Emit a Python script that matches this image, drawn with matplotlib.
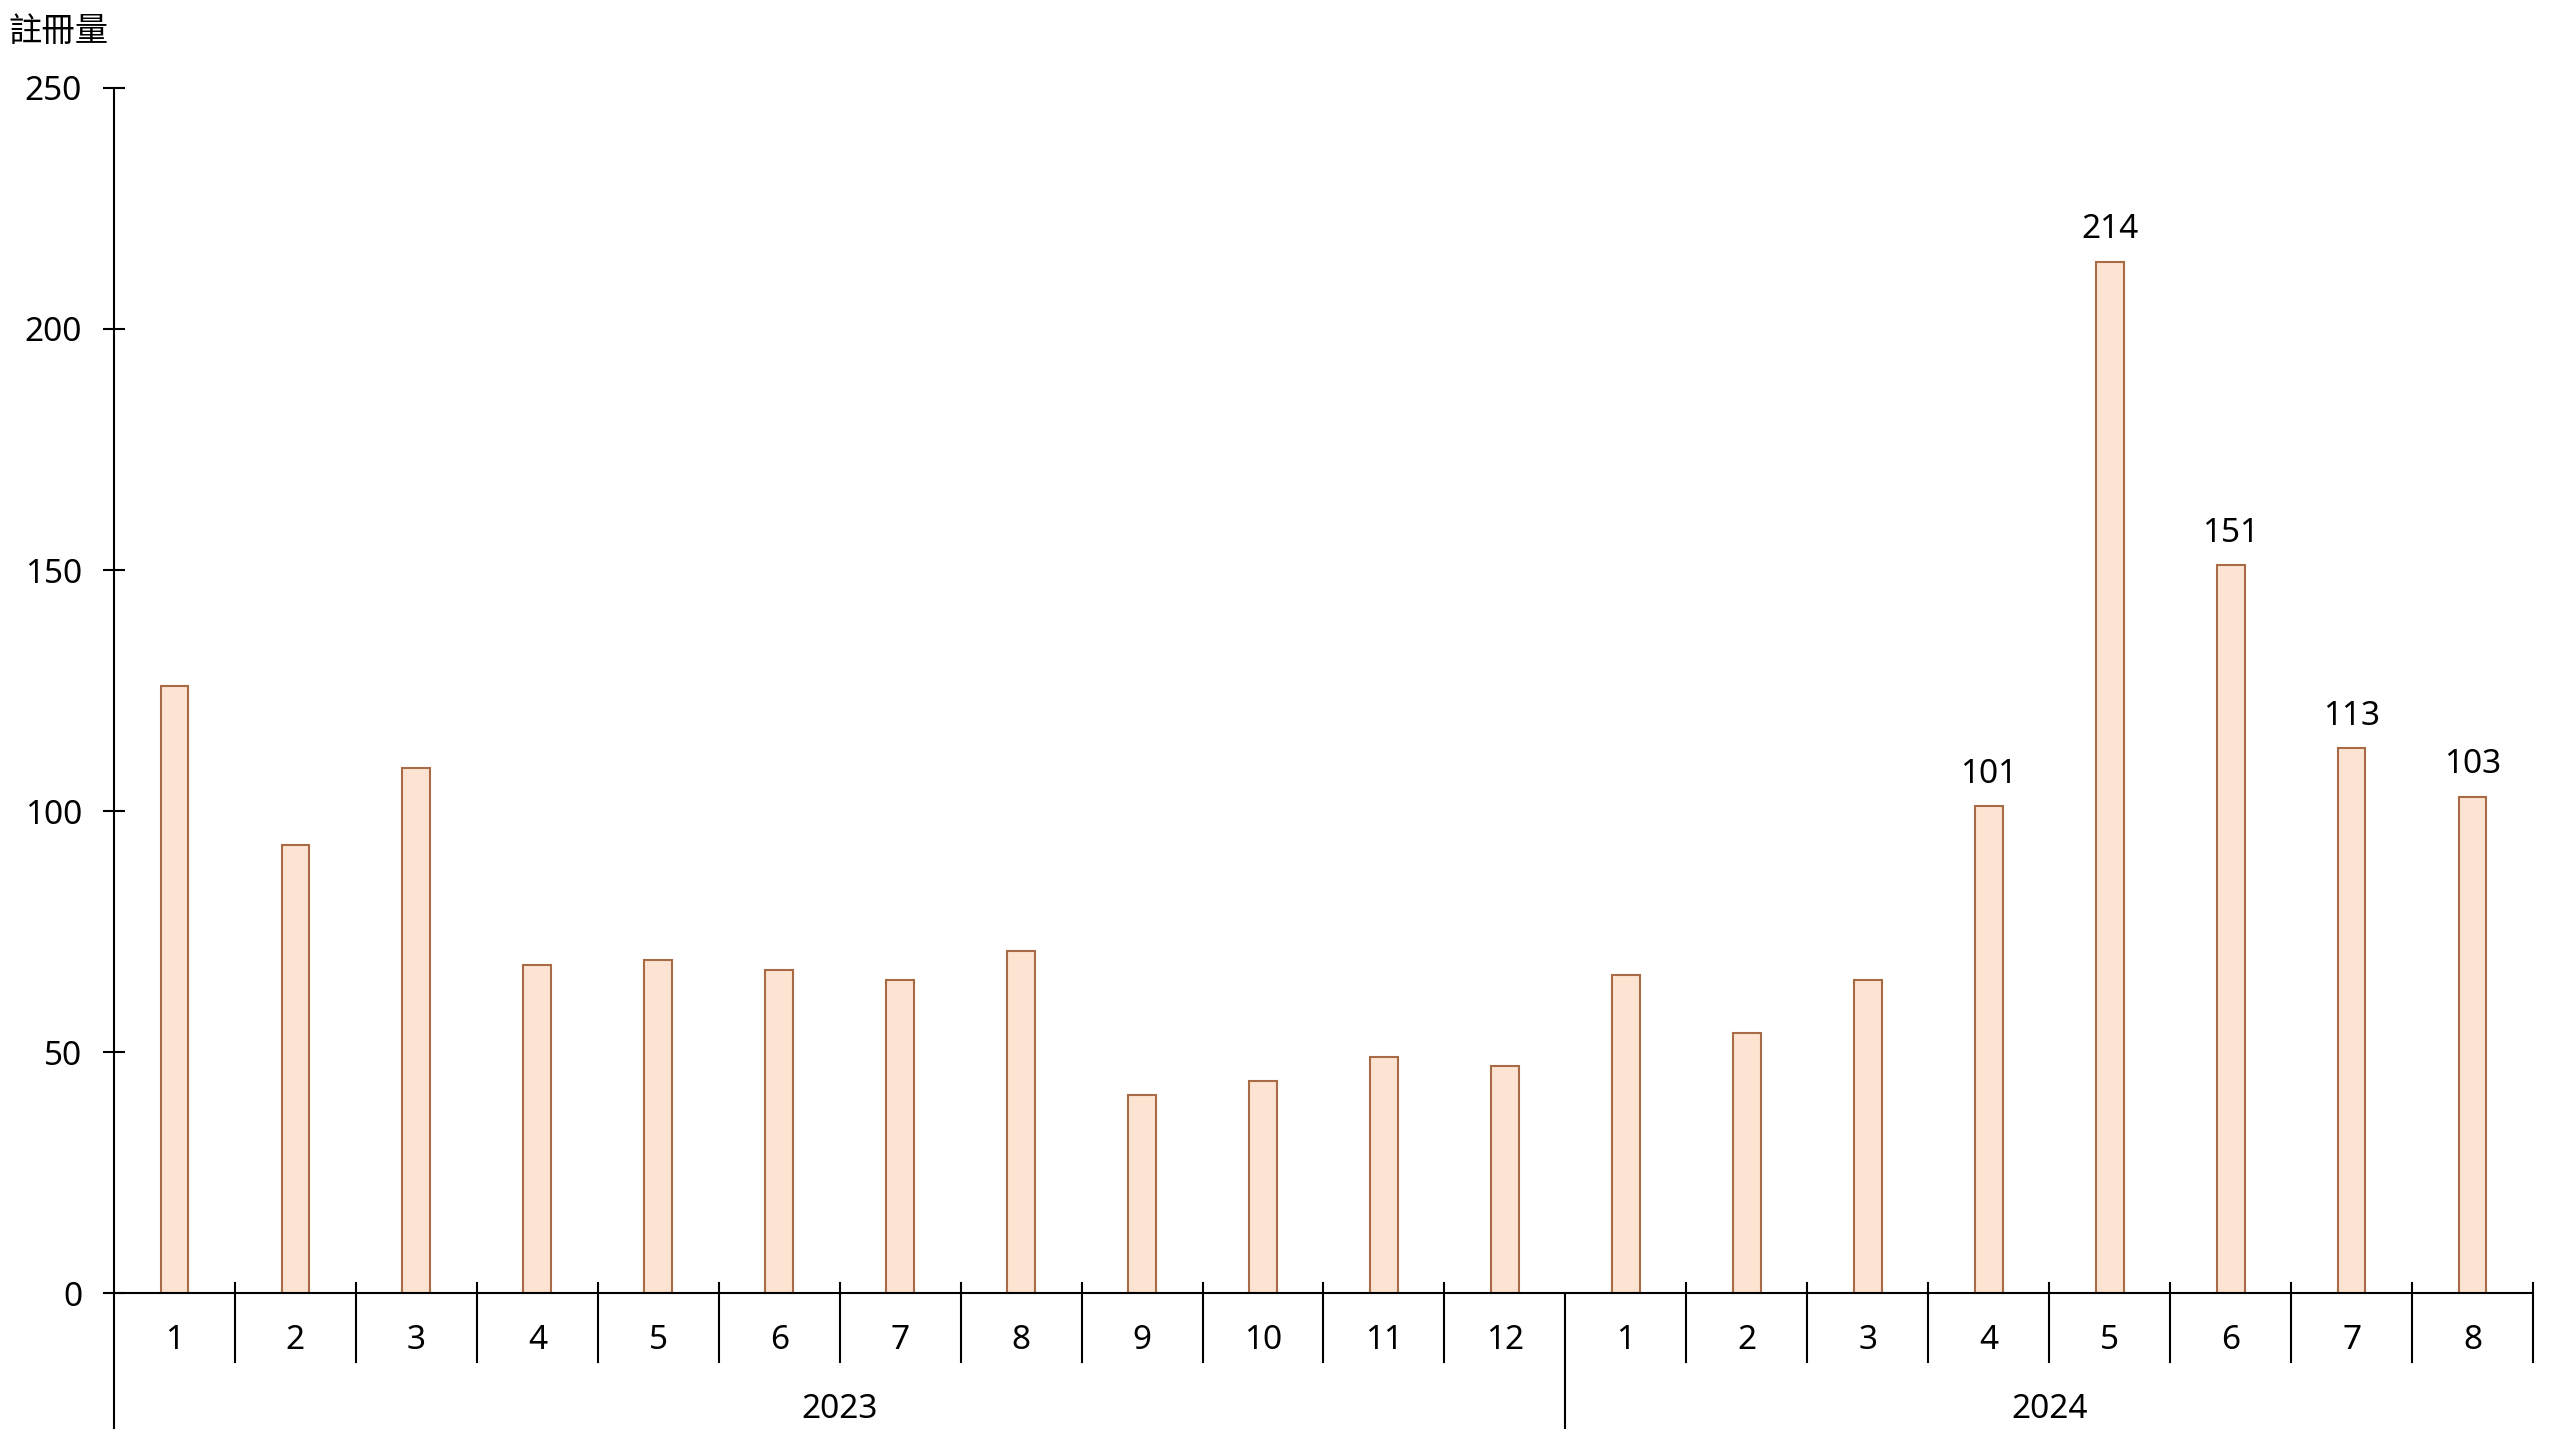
import matplotlib
matplotlib.use("Agg")
import matplotlib.pyplot as plt
import matplotlib.transforms as mtransforms

plt.rcParams['font.family'] = ['Noto Sans', 'Noto Sans CJK TC', 'DejaVu Sans']

years = ['2023', '2024']
months_2023 = ['1', '2', '3', '4', '5', '6', '7', '8', '9', '10', '11', '12']
months_2024 = ['1', '2', '3', '4', '5', '6', '7', '8']
values_2023 = [126, 93, 109, 68, 69, 67, 65, 71, 41, 44, 49, 47]
values_2024 = [66, 54, 65, 101, 214, 151, 113, 103]
labelled_2024 = ['', '', '', '101', '214', '151', '113', '103']
y_ticks = [0, 50, 100, 150, 200, 250]

month_labels = months_2023 + months_2024
values = values_2023 + values_2024
pos = list(range(len(values)))

fig = plt.figure(figsize=(25.6, 14.4), dpi=100)
ax = fig.add_axes([0.04453, 0.10208, 0.98945 - 0.04453, 0.93889 - 0.10208])

bars = ax.bar(pos, values, width=0.23, color='#fde4d2', edgecolor='#a86b45',
              linewidth=1.5, zorder=2)
ax.bar_label(bars, labels=[''] * len(values_2023) + labelled_2024,
             padding=11, fontsize=24)

ax.set_xlim(-0.5, len(values) - 0.5)
ax.set_ylim(0, 250)
ax.set_yticks(y_ticks)
ax.set_xticks(pos)
ax.set_xticklabels(month_labels)

for s in ['top', 'right']:
    ax.spines[s].set_visible(False)
for s in ['left', 'bottom']:
    ax.spines[s].set_linewidth(1.5)
    ax.spines[s].set_color('black')

ax.tick_params(axis='y', direction='inout', length=16, width=1.5, pad=15,
               labelsize=24)
ax.tick_params(axis='x', length=0, pad=22, labelsize=24)

# category separators below the axis
trans = mtransforms.blended_transform_factory(ax.transData, ax.transAxes)
for i in range(len(values)):
    x = i + 0.5
    if i == len(months_2023) - 1:
        ax.plot([x, x], [0, -0.112], transform=trans, color='black',
                linewidth=1.5, clip_on=False)
    else:
        ax.plot([x, x], [0.008, -0.057], transform=trans, color='black',
                linewidth=1.5, clip_on=False)
ax.plot([-0.5, -0.5], [0, -0.112], transform=trans, color='black',
        linewidth=1.5, clip_on=False)

# year labels
n23 = len(months_2023)
ax.text((n23 - 1) / 2, -0.097, years[0], transform=trans, ha='center',
        va='center', fontsize=24)
ax.text(n23 + (len(months_2024) - 1) / 2, -0.097, years[1], transform=trans,
        ha='center', va='center', fontsize=24)

fig.text(8 / 2560, 1 - 33 / 1440, '註冊量', ha='left', va='center',
         fontsize=24)

fig.savefig('out.png', dpi=100)
